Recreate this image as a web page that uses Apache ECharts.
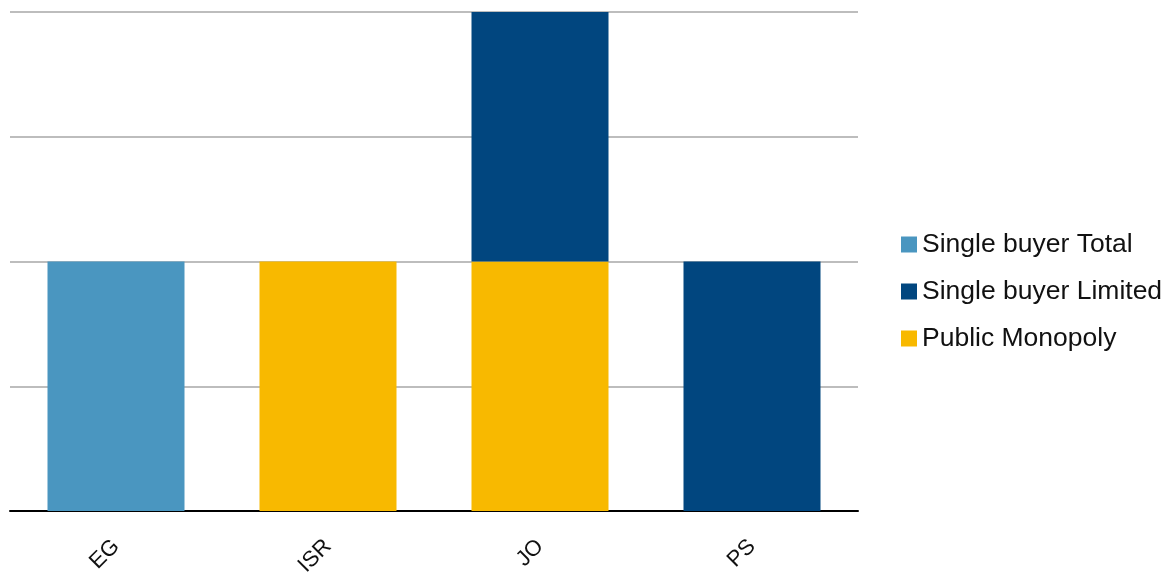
<!DOCTYPE html>
<html>
<head>
<meta charset="utf-8">
<style>
  html, body { margin: 0; padding: 0; background: #ffffff; }
  #chart { width: 1171px; height: 572px; }
</style>
<script src="https://cdn.jsdelivr.net/npm/echarts@6/dist/echarts.min.js"></script>
</head>
<body>
<div id="chart"></div>
<script>
// Market model by country (stacked bars)
const categories = ['EG', 'ISR', 'JO', 'PS'];
const publicMonopoly = [0, 1, 1, 0];
const singleBuyerLimited = [0, 0, 1, 1];
const singleBuyerTotal = [1, 0, 0, 0];
const legendOrder = ['Single buyer Total', 'Single buyer Limited', 'Public Monopoly'];

const chart = echarts.init(document.getElementById('chart'));
const font = '"Liberation Sans", Arial, Helvetica, sans-serif';

function bar(name, data, color) {
  return {
    name: name,
    type: 'bar',
    stack: 'model',
    data: data,
    barWidth: 137,
    itemStyle: { color: color },
    emphasis: { disabled: true }
  };
}

chart.setOption({
  animation: false,
  textStyle: { fontFamily: font },
  grid: { left: 10, right: 313, top: 12, bottom: 61, containLabel: false, outerBoundsMode: 'none' },
  legend: {
    orient: 'vertical',
    left: 896,
    top: 226,
    padding: 5,
    data: legendOrder,
    icon: 'rect',
    itemWidth: 16,
    itemHeight: 16,
    itemGap: 20,
    textStyle: { fontSize: 26.5, color: '#111', fontFamily: font }
  },
  xAxis: {
    type: 'category',
    data: categories,
    axisLine: { lineStyle: { color: '#000', width: 2 } },
    axisTick: { show: false },
    axisLabel: { rotate: 45, fontSize: 22, color: '#111', margin: 32, fontFamily: font }
  },
  yAxis: {
    type: 'value',
    min: 0,
    max: 2,
    interval: 0.5,
    axisLabel: { show: false },
    axisLine: { show: false },
    axisTick: { show: false },
    splitLine: { lineStyle: { color: '#BDBDBD', width: 2 } }
  },
  series: [
    bar('Public Monopoly', publicMonopoly, '#F8B900'),
    bar('Single buyer Limited', singleBuyerLimited, '#01467F'),
    bar('Single buyer Total', singleBuyerTotal, '#4A96C0')
  ]
});
</script>
</body>
</html>
